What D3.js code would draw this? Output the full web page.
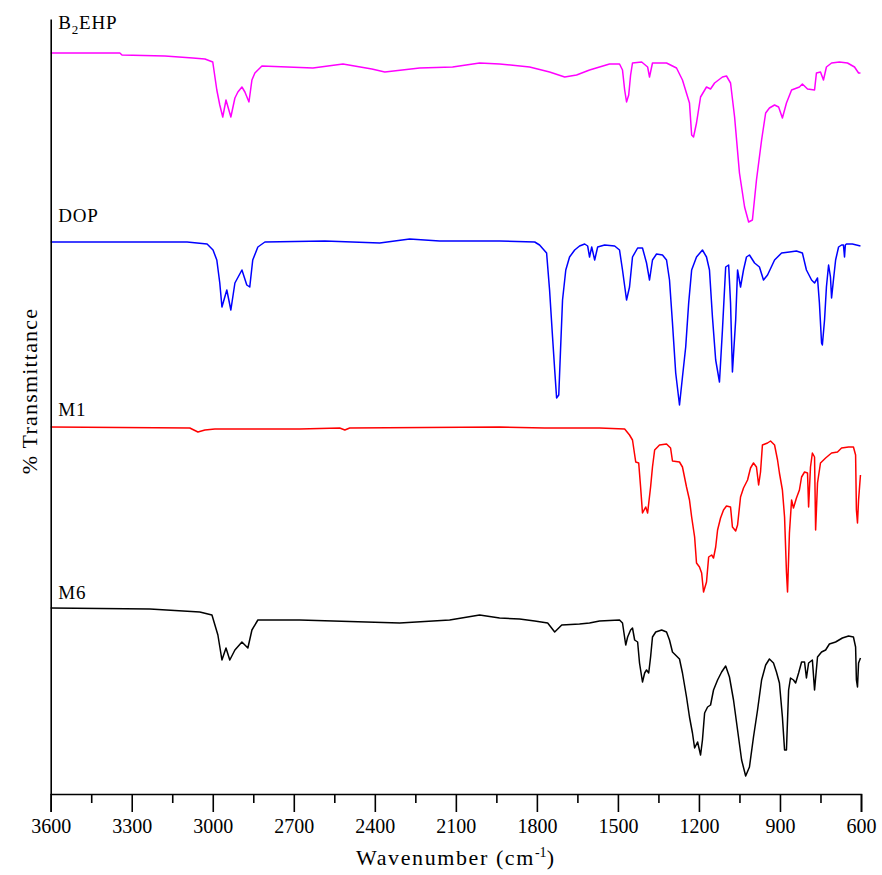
<!DOCTYPE html>
<html><head><meta charset="utf-8">
<script src="https://cdn.jsdelivr.net/npm/d3@7"></script>
<style>
html,body{margin:0;padding:0;background:#fff;}
svg{display:block;}
text{font-family:"Liberation Serif","Times New Roman",serif;fill:#000;}
</style></head>
<body>
<script>
// ---- DATA ----
const seriesNames = ["B2EHP", "DOP", "M1", "M6"];
const seriesColors = ["#ff00ff", "#0000ff", "#ff0000", "#000000"];
const xTickValues = [3600, 3300, 3000, 2700, 2400, 2100, 1800, 1500, 1200, 900, 600];
const xMinorTickValues = [3450, 3150, 2850, 2550, 2250, 1950, 1650, 1350, 1050, 750];

// [wavenumber (cm-1), offset transmittance]
const b2ehp = [[3600,148.2],[3344,148.2],[3336,147.8],[3177,147.6],[3074,147.2],[3029,147],[3000,146.4],[2985,140.8],[2974,137.8],[2963,135.4],[2951,138.8],[2933,135.4],[2918,139.2],[2907,140.4],[2892,141.4],[2881,140.4],[2866,138.4],[2855,142.8],[2844,144.2],[2818,145.6],[2629,145.2],[2518,146],[2411,145],[2363,144.4],[2234,145.2],[2112,145.4],[2012,146.2],[1938,146],[1827,145.4],[1753,144.4],[1697,143.4],[1653,143.8],[1605,144.8],[1568,145.4],[1531,146],[1494,146],[1483,144.8],[1475,140.8],[1468,138.4],[1460,139.8],[1453,143.8],[1446,146.2],[1412,146.4],[1390,145.4],[1383,143.4],[1372,146.2],[1320,146.2],[1283,145.2],[1261,142.8],[1235,138.2],[1227,131.8],[1220,131.4],[1209,134.2],[1194,139.4],[1172,141.4],[1157,141],[1142,142.2],[1113,143.4],[1098,143.6],[1083,142.2],[1068,135.4],[1050,124.2],[1031,117.4],[1016,114.4],[1002,114.8],[987,122.8],[968,130.8],[953,136.2],[939,137.2],[920,137.8],[905,137.4],[891,135.2],[876,138.2],[857,140.8],[828,141.4],[817,142],[798,141],[772,140.8],[765,144.2],[750,144.4],[739,142.8],[728,145.4],[709,146.2],[680,146.4],[650,146.2],[624,145.4],[609,144.2],[602,144.2]];

const dop = [[3600,110.4],[3095,110.4],[3021,110],[2999,108.8],[2985,106.8],[2974,102.2],[2966,97.4],[2948,100.8],[2933,96.8],[2918,102.2],[2892,104.8],[2874,101.8],[2863,101.4],[2852,106.8],[2833,109.4],[2807,110.4],[2585,110.6],[2382,110.2],[2271,111],[2160,110.6],[1938,110.6],[1808,110.4],[1790,109.8],[1764,108.2],[1753,100.8],[1742,91.4],[1734,84.8],[1727,79.2],[1719,79.8],[1712,89.4],[1705,98.8],[1693,104.8],[1679,107.4],[1660,108.8],[1642,109.6],[1623,110],[1612,109.6],[1605,107.4],[1597,109.4],[1586,106.8],[1575,109.4],[1549,109.8],[1512,109.6],[1494,108.8],[1483,104.8],[1468,98.8],[1457,101.4],[1446,107.4],[1427,109.2],[1409,109.2],[1394,106.2],[1383,102.8],[1372,106.8],[1357,108],[1335,107.8],[1320,106.8],[1309,102.8],[1298,94.2],[1286,84.2],[1272,77.8],[1261,83.4],[1249,89.4],[1238,98.2],[1227,104.8],[1209,107.4],[1187,108.8],[1172,107.4],[1161,104.8],[1150,95.4],[1138,86.8],[1124,82.4],[1113,92.8],[1101,105.4],[1090,105.8],[1083,98.2],[1076,84.4],[1064,94.8],[1057,104.8],[1046,101.4],[1035,104.8],[1024,107.4],[1013,107.8],[994,106.2],[976,105.4],[961,102.8],[946,103.8],[920,106.8],[894,108.2],[865,108.4],[839,108.6],[817,108.2],[802,104.8],[783,102.8],[772,102.2],[761,103.2],[754,98.2],[746,90.2],[743,89.8],[735,94.8],[728,101.4],[720,105.8],[713,103.4],[709,99.2],[702,102.8],[694,106.8],[683,109.4],[672,109.8],[665,109.8],[661,107.4],[658,109.8],[654,110],[632,110],[602,109.6]];

const m1 = [[3600,73.4],[3085,73.2],[3055,72.4],[3029,72.8],[2992,73],[2678,73],[2530,73.2],[2511,72.8],[2493,73.2],[1938,73.4],[1771,73.2],[1679,73.2],[1568,73.2],[1475,73],[1457,71.8],[1446,70.8],[1434,66.4],[1423,66.2],[1416,61.4],[1409,56.2],[1397,57.4],[1390,56.2],[1379,61.4],[1372,65.4],[1364,68.8],[1346,69.8],[1320,70],[1305,69.2],[1298,66.6],[1272,66.4],[1261,65.4],[1246,61.4],[1235,58.8],[1227,55.4],[1216,51.4],[1209,46.2],[1198,45.4],[1190,44.2],[1183,40.4],[1172,42.4],[1164,47.4],[1153,47.8],[1146,47.2],[1138,49.4],[1131,52.8],[1120,55.2],[1109,56.8],[1098,57.6],[1083,57.4],[1076,53.4],[1064,52.6],[1057,53.8],[1046,59.4],[1035,61.2],[1020,62.8],[1009,65.2],[998,66.2],[987,65.4],[979,61.8],[972,64.4],[965,69.8],[946,70.2],[935,70.6],[920,69.8],[909,66.8],[902,64.2],[891,60.8],[883,55.4],[876,44.4],[872,40.4],[865,52.2],[857,58.8],[850,57.2],[839,59.2],[828,60.8],[820,63.4],[809,64.4],[798,64.2],[794,57.4],[787,65.4],[780,68.2],[772,67.4],[768,52.8],[761,62.2],[750,66.2],[731,67.2],[709,68.2],[687,68.4],[672,69.2],[646,69.4],[628,69.4],[620,67.8],[617,56.8],[613,54.2],[609,58.8],[602,63.8]];

const m6 = [[3600,37.2],[3233,37],[3048,36.4],[3003,35.8],[2981,31.8],[2966,26.8],[2951,29.2],[2937,26.8],[2918,28.8],[2892,30.4],[2870,29.2],[2855,32.8],[2833,34.8],[2678,34.8],[2308,34.2],[2123,34.8],[2012,35.8],[1938,35.2],[1864,35],[1808,34.6],[1760,34.2],[1734,32.4],[1708,33.8],[1642,34],[1605,34.2],[1568,34.6],[1494,34.8],[1483,34.2],[1471,29.8],[1464,31.4],[1453,32.8],[1446,33.2],[1438,30.8],[1427,30.4],[1420,26.2],[1409,22.4],[1401,24.2],[1394,24.8],[1386,24.2],[1379,27.4],[1372,31.4],[1360,32.4],[1338,32.8],[1320,32.4],[1309,30.8],[1298,28.4],[1272,27],[1261,24.2],[1246,19.4],[1235,15.4],[1224,12.2],[1216,9.2],[1205,10.4],[1194,7.8],[1187,10.8],[1179,16.2],[1168,17.4],[1157,17.8],[1146,20.8],[1131,22.8],[1116,24.4],[1101,25.6],[1087,23.4],[1072,18.8],[1057,12.8],[1042,6.8],[1027,3.6],[1013,5.4],[998,11.4],[983,16.8],[968,22.8],[953,25.8],[939,27],[924,26.2],[913,24.4],[902,22.2],[891,15.4],[883,8.8],[876,8.8],[868,20.8],[861,23.2],[850,22.8],[842,22.2],[831,24.2],[820,26.4],[809,26.4],[802,23.2],[794,26.2],[780,26.8],[772,20.8],[761,27.4],[746,28.4],[731,28.8],[717,30],[694,30.4],[669,31.2],[646,31.6],[628,31.4],[620,29.4],[617,22.8],[613,21.4],[609,26.2],[602,27.2]];

const seriesData = [b2ehp, dop, m1, m6];
// label anchor values (wavenumber, offset transmittance) for series names
const labelAnchors = [[3570, 153], [3570, 114.4], [3570, 75.6], [3570, 39]];

// ---- CHART ----
const W = 882, H = 875;
const svg = d3.select("body").append("svg").attr("width", W).attr("height", H);

const x = d3.scaleLinear().domain([3600, 600]).range([50.7, 861]);
const y = d3.scaleLinear().domain([0, 155]).range([794, 19]);

// lines
const line = d3.line().x(d => x(d[0])).y(d => y(d[1]));
seriesData.forEach((s, i) => {
  svg.append("path").datum(s)
    .attr("fill", "none")
    .attr("stroke", seriesColors[i])
    .attr("stroke-width", 1.5)
    .attr("stroke-linejoin", "round")
    .attr("d", line);
});

// x axis (major)
const xAxis = d3.axisBottom(x).tickValues(xTickValues).tickSize(18).tickPadding(7).tickFormat(d3.format("d"));
const gx = svg.append("g").attr("transform", `translate(0,${y(0)})`).call(xAxis);
gx.select(".domain").attr("stroke-width", 1.6);
gx.selectAll(".tick line").attr("stroke-width", 1.6);
gx.selectAll(".tick text").style("font-size", "20px").style("font-family", "Liberation Serif");
// minor ticks
svg.append("g").attr("transform", `translate(0,${y(0)})`)
  .call(d3.axisBottom(x).tickValues(xMinorTickValues).tickSize(9).tickFormat(""))
  .call(g => g.select(".domain").remove())
  .selectAll(".tick line").attr("stroke-width", 1.6);

// y axis line (no ticks)
svg.append("g").attr("transform", `translate(${x(3600)},0)`)
  .call(d3.axisLeft(y).tickValues([]).tickSizeOuter(0))
  .select(".domain").attr("stroke-width", 1.6);

// axis titles
const xt = svg.append("text").attr("x", (x(3600) + x(600)) / 2).attr("y", 865)
  .attr("text-anchor", "middle").style("font-size", "22px").style("letter-spacing", "1.6px");
xt.append("tspan").text("Wavenumber (cm");
xt.append("tspan").attr("dy", -8).style("font-size", "14px").style("letter-spacing", "0px").text("-1");
xt.append("tspan").attr("dy", 8).text(")");

svg.append("text").attr("transform", `translate(37,391) rotate(-90)`)
  .attr("text-anchor", "middle").style("font-size", "22px").style("letter-spacing", "1.2px")
  .text("% Transmittance");

// series labels
seriesNames.forEach((n, i) => {
  const t = svg.append("text").attr("x", x(labelAnchors[i][0]) - 0.5).attr("y", y(labelAnchors[i][1]))
    .style("font-size", "19px").style("letter-spacing", "0.8px");
  if (n === "B2EHP") {
    t.append("tspan").text("B");
    t.append("tspan").attr("dy", 5).style("font-size", "13px").text("2");
    t.append("tspan").attr("dy", -5).text("EHP");
  } else {
    t.text(n);
  }
});
</script>
</body></html>
